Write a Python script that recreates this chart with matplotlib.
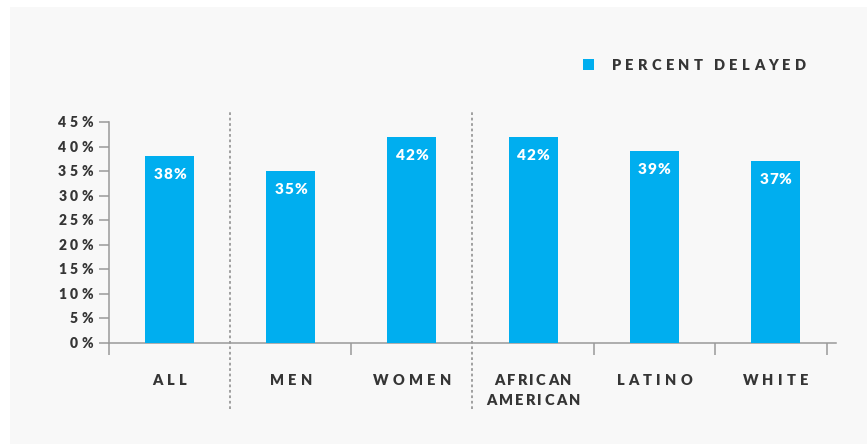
import matplotlib
matplotlib.use("Agg")
import matplotlib.pyplot as plt
from matplotlib.font_manager import FontProperties
from matplotlib.patches import Rectangle
import matplotlib.transforms as mtransforms

categories = ["ALL", "MEN", "WOMEN", "AFRICAN\nAMERICAN", "LATINO", "WHITE"]
percent_delayed = [38, 35, 42, 42, 39, 37]
y_ticks = [0, 5, 10, 15, 20, 25, 30, 35, 40, 45]
group_breaks = [0.5, 2.5]
legend_label = "PERCENT DELAYED"

BLUE = "#00AEEF"
TEXT = "#353535"
GRID = "#999999"
FONT = ["Lato", "DejaVu Sans"]
W, H = 867, 444

fig = plt.figure(figsize=(W / 100, H / 100), dpi=100)
fig.patch.set_facecolor("white")
fig.patches.append(Rectangle((10 / W, 0), 1, (H - 7) / H, transform=fig.transFigure,
                             facecolor="#f8f8f8", edgecolor="none", zorder=-10))

ax = fig.add_axes([109 / W, 1 - 343 / H, (836 - 109) / W, (343 - 122) / H])
ax.set_facecolor("none")
x = list(range(len(categories)))
bars = ax.bar(x, percent_delayed, width=0.405, color=BLUE, zorder=3)
ax.set_xlim(-0.5, 5.5)
ax.set_ylim(0, 45)

for side in ["top", "right"]:
    ax.spines[side].set_visible(False)
for side in ["left", "bottom"]:
    ax.spines[side].set_color(GRID)
    ax.spines[side].set_linewidth(1.1)

ax.set_yticks(y_ticks)
ax.set_yticklabels([])
ax.set_xticks([-0.5, 1.5, 3.5, 4.5, 5.425])
ax.set_xticklabels([])
ax.tick_params(axis="y", direction="out", length=7.2, width=1.1, color=GRID)
ax.tick_params(axis="x", direction="out", length=8.6, width=1.1, color=GRID)

# dotted separators between the groups
blend = mtransforms.blended_transform_factory(ax.transData, ax.transAxes)
for gx in group_breaks:
    ax.plot([gx, gx], [-0.3, 1.045], transform=blend, clip_on=False,
            color="#a0a0a0", lw=1.4, ls=(0, (1.4, 1.4)), zorder=1)

renderer = fig.canvas.get_renderer()


def spaced_text(px, py, s, gap, size, color=TEXT, ha="center", weight="heavy"):
    # px, py are pixels from the top-left, py is the baseline
    prop = FontProperties(family=FONT, weight=weight, size=size)
    widths = []
    for c in s:
        if c == " ":
            widths.append(size * 0.3)
        else:
            widths.append(renderer.get_text_width_height_descent(c, prop, ismath=False)[0])
    total = sum(widths) + gap * (len(s) - 1)
    if ha == "center":
        left = px - total / 2
    elif ha == "right":
        left = px - total
    else:
        left = px
    for c, w in zip(s, widths):
        if c != " ":
            fig.text(left / W, 1 - py / H, c, fontproperties=prop, color=color,
                     ha="left", va="baseline")
        left += w + gap


def to_px(xd, yd):
    dx, dy = ax.transData.transform((xd, yd))
    return dx, H - dy


# y tick labels
for t in y_ticks:
    _, py = to_px(0, t)
    spaced_text(93, py + 5, f"{t}%", 3.5, 10, ha="right")

# category labels
for i, lab in enumerate(categories):
    px, _ = to_px(i, 0)
    lines = lab.split("\n")
    gap = 4.2 if len(lines) == 1 else 2.2
    for j, line in enumerate(lines):
        spaced_text(px, 384.5 + j * 20, line, gap, 10.5)

# values inside the bars
for i, v in enumerate(percent_delayed):
    px, py = to_px(i, v)
    spaced_text(px, py + 23, f"{v}%", 1, 11, color="white")

# legend
fig.patches.append(Rectangle((583 / W, 1 - 70 / H), 11 / W, 11 / H, transform=fig.transFigure,
                             facecolor=BLUE, edgecolor="none"))
spaced_text(612, 70.5, legend_label, 4.2, 10.5, ha="left")

fig.savefig("out.png", dpi=100)
